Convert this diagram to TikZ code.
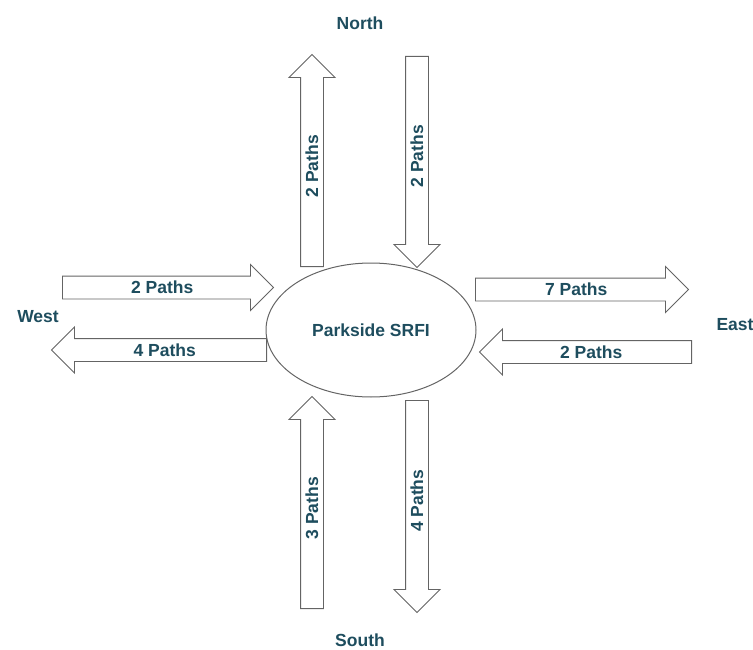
\documentclass[tikz,border=0pt]{standalone}
\usepackage{fontspec}
\setmainfont{Liberation Sans}
\usepackage{xcolor}
\usepackage{tikz}
\usetikzlibrary{shapes, arrows, positioning}

\definecolor{labelteal}{RGB}{30,77,94}
\definecolor{edgegray}{RGB}{100,100,100}

\begin{document}
\begin{tikzpicture}[x=1pt, y=-1pt,
    hub/.style={ellipse, draw=edgegray, line width=1pt, minimum width=210pt, minimum height=134pt, inner sep=0pt, font=\fontsize{17.5}{20}\selectfont\bfseries, text=labelteal},
    flow/.style={single arrow, draw=edgegray, line width=0.9pt, fill=white, single arrow head extend=11.5pt, text height=12pt, text depth=0pt, inner ysep=5pt, inner xsep=0pt, anchor=tail, font=\fontsize{17.5}{20}\selectfont\bfseries, text=labelteal},
    compass/.style={font=\fontsize{17.5}{20}\selectfont\bfseries, text=labelteal}
]
    \useasboundingbox (0,0) rectangle (753,650);

    % Hub node
    \node[hub] (hub) at (371,330) {Parkside SRFI};

    % Compass labels
    \node[compass] (north) at (360,23) {North};
    \node[compass] (south) at (360,640) {South};
    \node[compass] (west) at (38,317) {West};
    \node[compass] (east) at (735,325) {East};

    % North arrows
    \node[flow, rotate=90, minimum height=212pt] (northout) at (312,267) {2 Paths};
    \node[flow, rotate=90, shape border rotate=180, minimum height=211pt] (northin) at (417,56) {2 Paths};

    % South arrows
    \node[flow, rotate=90, minimum height=212pt] (southin) at (312,609) {3 Paths};
    \node[flow, rotate=90, shape border rotate=180, minimum height=212pt] (southout) at (417,400) {4 Paths};

    % West arrows
    \node[flow, minimum height=211pt] (westin) at (62,287.5) {2 Paths};
    \node[flow, shape border rotate=180, minimum height=215pt] (westout) at (267,350) {4 Paths};

    % East arrows
    \node[flow, minimum height=213pt] (eastout) at (475,289.5) {7 Paths};
    \node[flow, shape border rotate=180, minimum height=212pt] (eastin) at (692,352) {2 Paths};
\end{tikzpicture}
\end{document}
